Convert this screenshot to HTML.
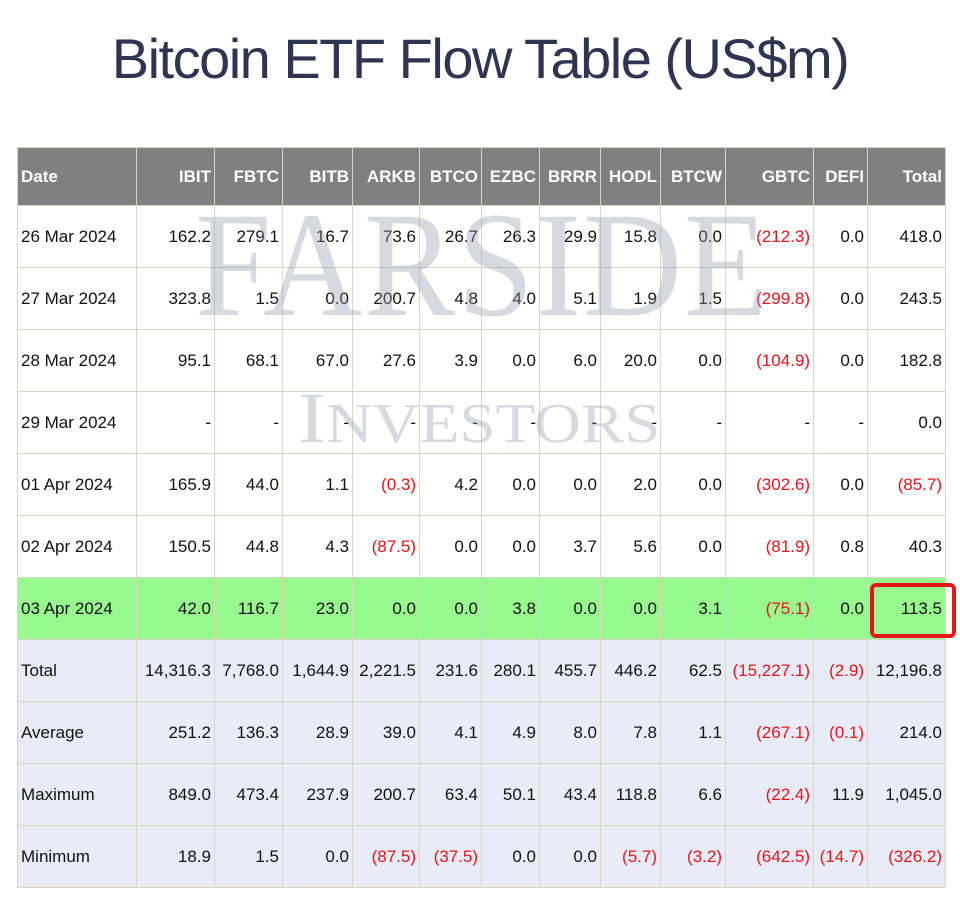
<!DOCTYPE html>
<html><head><meta charset="utf-8"><style>
body{margin:0;width:960px;height:901px;background:#fff;font-family:"Liberation Sans",sans-serif;position:relative;overflow:hidden}
h1{position:absolute;top:26px;left:0;width:960px;text-align:center;margin:0;font-weight:400;font-size:56px;color:#2e3550;letter-spacing:-1.5px}
table{position:absolute;left:17px;top:147px;border-collapse:collapse;font-size:17px;color:#111}
td,th{border:1px solid #d8d5c0;padding:0 3px;text-align:right;white-space:nowrap}
th{background:#808080;color:#fff;height:57px;font-weight:700}
td{height:61px}
td:first-child,th:first-child{text-align:left}
.r{color:#e8141c}
tr.g td{background:#98f98e}
tr.s td{background:#e9ecf7}
.wm{position:absolute;font-family:"Liberation Serif",serif;color:rgba(150,155,175,0.38);pointer-events:none;transform-origin:0 0;white-space:nowrap}
.box{position:absolute;left:870px;top:583px;width:86px;height:55px;border:4px solid #e8141c;border-radius:6px;box-sizing:border-box}
</style></head><body>
<h1>Bitcoin ETF Flow Table (US$m)</h1>
<table>
<colgroup><col style="width:119px"><col style="width:78px"><col style="width:68px"><col style="width:70px"><col style="width:67px"><col style="width:62px"><col style="width:58px"><col style="width:61px"><col style="width:60px"><col style="width:65px"><col style="width:88px"><col style="width:54px"><col style="width:78px"></colgroup>
<tr><th>Date</th><th>IBIT</th><th>FBTC</th><th>BITB</th><th>ARKB</th><th>BTCO</th><th>EZBC</th><th>BRRR</th><th>HODL</th><th>BTCW</th><th>GBTC</th><th>DEFI</th><th>Total</th></tr>
<tr><td>26 Mar 2024</td><td>162.2</td><td>279.1</td><td>16.7</td><td>73.6</td><td>26.7</td><td>26.3</td><td>29.9</td><td>15.8</td><td>0.0</td><td class="r">(212.3)</td><td>0.0</td><td>418.0</td></tr>
<tr><td>27 Mar 2024</td><td>323.8</td><td>1.5</td><td>0.0</td><td>200.7</td><td>4.8</td><td>4.0</td><td>5.1</td><td>1.9</td><td>1.5</td><td class="r">(299.8)</td><td>0.0</td><td>243.5</td></tr>
<tr><td>28 Mar 2024</td><td>95.1</td><td>68.1</td><td>67.0</td><td>27.6</td><td>3.9</td><td>0.0</td><td>6.0</td><td>20.0</td><td>0.0</td><td class="r">(104.9)</td><td>0.0</td><td>182.8</td></tr>
<tr><td>29 Mar 2024</td><td>-</td><td>-</td><td>-</td><td>-</td><td>-</td><td>-</td><td>-</td><td>-</td><td>-</td><td>-</td><td>-</td><td>0.0</td></tr>
<tr><td>01 Apr 2024</td><td>165.9</td><td>44.0</td><td>1.1</td><td class="r">(0.3)</td><td>4.2</td><td>0.0</td><td>0.0</td><td>2.0</td><td>0.0</td><td class="r">(302.6)</td><td>0.0</td><td class="r">(85.7)</td></tr>
<tr><td>02 Apr 2024</td><td>150.5</td><td>44.8</td><td>4.3</td><td class="r">(87.5)</td><td>0.0</td><td>0.0</td><td>3.7</td><td>5.6</td><td>0.0</td><td class="r">(81.9)</td><td>0.8</td><td>40.3</td></tr>
<tr class="g"><td>03 Apr 2024</td><td>42.0</td><td>116.7</td><td>23.0</td><td>0.0</td><td>0.0</td><td>3.8</td><td>0.0</td><td>0.0</td><td>3.1</td><td class="r">(75.1)</td><td>0.0</td><td>113.5</td></tr>
<tr class="s"><td>Total</td><td>14,316.3</td><td>7,768.0</td><td>1,644.9</td><td>2,221.5</td><td>231.6</td><td>280.1</td><td>455.7</td><td>446.2</td><td>62.5</td><td class="r">(15,227.1)</td><td class="r">(2.9)</td><td>12,196.8</td></tr>
<tr class="s"><td>Average</td><td>251.2</td><td>136.3</td><td>28.9</td><td>39.0</td><td>4.1</td><td>4.9</td><td>8.0</td><td>7.8</td><td>1.1</td><td class="r">(267.1)</td><td class="r">(0.1)</td><td>214.0</td></tr>
<tr class="s"><td>Maximum</td><td>849.0</td><td>473.4</td><td>237.9</td><td>200.7</td><td>63.4</td><td>50.1</td><td>43.4</td><td>118.8</td><td>6.6</td><td class="r">(22.4)</td><td>11.9</td><td>1,045.0</td></tr>
<tr class="s"><td>Minimum</td><td>18.9</td><td>1.5</td><td>0.0</td><td class="r">(87.5)</td><td class="r">(37.5)</td><td>0.0</td><td>0.0</td><td class="r">(5.7)</td><td class="r">(3.2)</td><td class="r">(642.5)</td><td class="r">(14.7)</td><td class="r">(326.2)</td></tr>
</table>
<div class="wm" style="left:195px;top:190px;font-size:150px;letter-spacing:2px;line-height:150px;transform:scaleX(0.915)">FARSIDE</div>
<div class="wm" style="left:298px;top:382px;font-size:72px;line-height:72px;transform:scaleX(1.16)">I<span style="font-size:56px">NVESTORS</span></div>
<div class="box"></div>
</body></html>
